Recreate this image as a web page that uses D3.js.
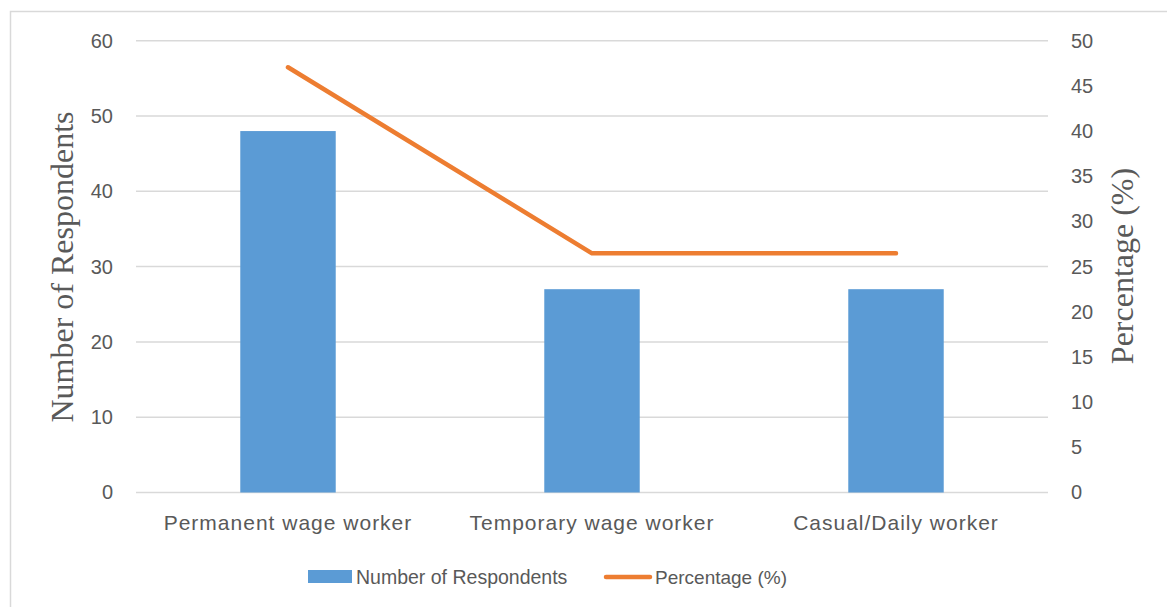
<!DOCTYPE html>
<html>
<head>
<meta charset="utf-8">
<script src="https://cdn.jsdelivr.net/npm/d3@7"></script>
<style>
  html, body { margin: 0; padding: 0; background: #fff; }
  svg { display: block; }
</style>
</head>
<body>
<svg id="chart" width="1167" height="607"></svg>
<script>
const categories = ["Permanent wage worker", "Temporary wage worker", "Casual/Daily worker"];
const respondents = [48, 27, 27];
const percentages = [47.06, 26.47, 26.47];
const leftTicks = [0, 10, 20, 30, 40, 50, 60];
const rightTicks = [0, 5, 10, 15, 20, 25, 30, 35, 40, 45, 50];
const seriesNames = ["Number of Respondents", "Percentage (%)"];

const W = 1167, H = 607;
const margin = { left: 136, right: 1048, top: 40.7, bottom: 492.5 };
const blue = "#5B9BD5", orange = "#ED7D31", textCol = "#595959", grid = "#D9D9D9";
const sans = "'Liberation Sans', Arial, sans-serif";
const serif = "'Liberation Serif', 'Times New Roman', serif";

const svg = d3.select("#chart");

// outer border
svg.append("rect").attr("x", 10.5).attr("y", 11.5).attr("width", W + 20).attr("height", H + 20)
  .attr("fill", "none").attr("stroke", grid).attr("stroke-width", 1.5);

const x = d3.scaleBand().domain(categories).range([margin.left, margin.right]).paddingInner(0.686).paddingOuter(0.343);
const yL = d3.scaleLinear().domain([0, 60]).range([margin.bottom, margin.top]);
const yR = d3.scaleLinear().domain([0, 50]).range([margin.bottom, margin.top]);

// gridlines
svg.append("g").selectAll("line").data(leftTicks).join("line")
  .attr("x1", margin.left).attr("x2", margin.right)
  .attr("y1", d => yL(d)).attr("y2", d => yL(d))
  .attr("stroke", grid).attr("stroke-width", 1.5);

// left axis
const gL = svg.append("g").attr("transform", `translate(${margin.left},0)`)
  .call(d3.axisLeft(yL).tickValues(leftTicks).tickSize(0).tickPadding(23));
gL.select(".domain").remove();
gL.selectAll("text").attr("font-family", sans).attr("font-size", 20).attr("fill", textCol);

// right axis
const gR = svg.append("g").attr("transform", `translate(${margin.right},0)`)
  .call(d3.axisRight(yR).tickValues(rightTicks).tickSize(0).tickPadding(23));
gR.select(".domain").remove();
gR.selectAll("text").attr("font-family", sans).attr("font-size", 20).attr("fill", textCol);

// bars
svg.append("g").selectAll("rect").data(categories).join("rect")
  .attr("x", d => x(d)).attr("width", x.bandwidth())
  .attr("y", (d, i) => yL(respondents[i]))
  .attr("height", (d, i) => yL(0) - yL(respondents[i]))
  .attr("fill", blue);

// line
const line = d3.line().x((d, i) => x(categories[i]) + x.bandwidth() / 2).y(d => yR(d));
svg.append("path").datum(percentages).attr("d", line)
  .attr("fill", "none").attr("stroke", orange).attr("stroke-width", 4.5)
  .attr("stroke-linecap", "round").attr("stroke-linejoin", "round");

// category labels
svg.append("g").selectAll("text").data(categories).join("text")
  .attr("x", d => x(d) + x.bandwidth() / 2).attr("y", 530)
  .attr("text-anchor", "middle").attr("font-family", sans).attr("font-size", 21)
  .attr("letter-spacing", 1)
  .attr("fill", textCol).text(d => d);

// axis titles
svg.append("text").attr("transform", `translate(73,267) rotate(-90)`)
  .attr("text-anchor", "middle").attr("font-family", serif).attr("font-size", 32)
  .attr("fill", textCol).text("Number of Respondents");
svg.append("text").attr("transform", `translate(1133,266) rotate(-90)`)
  .attr("text-anchor", "middle").attr("font-family", serif).attr("font-size", 32)
  .attr("fill", textCol).text("Percentage (%)");

// legend
const lg = svg.append("g");
lg.append("rect").attr("x", 308).attr("y", 570).attr("width", 44).attr("height", 13).attr("fill", blue);
lg.append("text").attr("x", 356).attr("y", 584).attr("font-family", sans).attr("font-size", 19.5)
  .attr("fill", textCol).text(seriesNames[0]);
lg.append("line").attr("x1", 606).attr("x2", 650).attr("y1", 577).attr("y2", 577)
  .attr("stroke", orange).attr("stroke-width", 4.5).attr("stroke-linecap", "round");
lg.append("text").attr("x", 655).attr("y", 584).attr("font-family", sans).attr("font-size", 19)
  .attr("fill", textCol).text(seriesNames[1]);
</script>
</body>
</html>
